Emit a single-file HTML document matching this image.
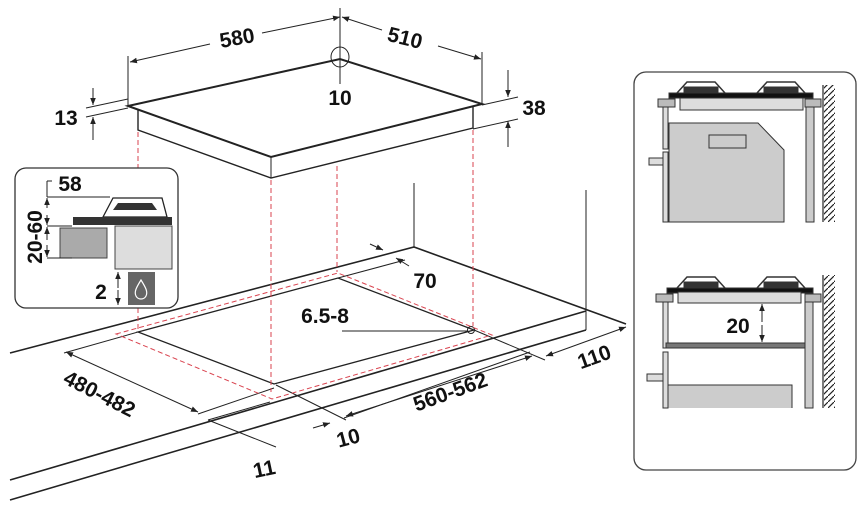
<!DOCTYPE html>
<html><head><meta charset="utf-8"><style>
html,body{margin:0;padding:0;background:#fff}
svg{display:block}
text{font-family:"Liberation Sans",sans-serif;font-weight:bold;fill:#111}
</style></head><body>
<svg width="866" height="513" viewBox="0 0 866 513" xmlns="http://www.w3.org/2000/svg">
<defs>
<marker id="a" viewBox="0 0 10 10" refX="10" refY="5" markerWidth="7" markerHeight="7" orient="auto-start-reverse"><path d="M0,1 L10,5 L0,9 z" fill="#222"/></marker>
<pattern id="h" width="6" height="6" patternUnits="userSpaceOnUse"><path d="M0,6 L6,0" stroke="#222" stroke-width="1.2"/></pattern>
</defs>
<g stroke="#222" fill="none" stroke-width="1">
<path d="M128,106 L340,59 L482,104 L271,157 Z" stroke-width="2" fill="#fff"/>
<path d="M138,109 L138,130 L271,178 L473,128 L473,107" stroke-width="1.4"/>
<path d="M271,157 L271,178"/>
<path d="M128,106 L128,56 M340,8 L340,84 M482,104 L482,52"/>
<path d="M262,33 L340,17" marker-end="url(#a)"/>
<path d="M130,62 L210,44" marker-start="url(#a)"/>
<path d="M342,17 L382,30" marker-start="url(#a)"/>
<path d="M438,46 L481,59" marker-end="url(#a)"/>
<ellipse cx="340" cy="57" rx="9" ry="10"/>
<path d="M93,88 L93,105" marker-end="url(#a)"/>
<path d="M93,140 L93,117" marker-end="url(#a)"/>
<path d="M86,108 L128,99 M86,117 L128,108"/>
<path d="M508,70 L508,97" marker-end="url(#a)"/>
<path d="M508,147 L508,121" marker-end="url(#a)"/>
<path d="M482,105 L518,97 M473,129 L518,119"/>
<path d="M414,183 L414,247 M586,190 L586,330"/>
<path d="M10,353 L414,247 L626,324 M10,480 L586,311 M10,500 L586,330" stroke-width="1.6"/>
<path d="M138,332 L338,278 L474,330 L274,384 Z" stroke-width="1.3"/>
<path d="M64,353 L138,332"/>
<path d="M66,352 L198,412" marker-start="url(#a)" marker-end="url(#a)"/>
<path d="M198,414 L274,388"/>
<path d="M208,420 L270,402 M208,420 L276,447"/>
<path d="M276,385 L346,420 M344,418 L530,352"/>
<path d="M346,416 L532,356" marker-start="url(#a)" marker-end="url(#a)"/>
<path d="M474,330 L545,360"/>
<path d="M546,356 L626,327" marker-start="url(#a)" marker-end="url(#a)"/>
<path d="M313,428 L330,423" marker-end="url(#a)"/>
<path d="M370,244 L383,250" marker-end="url(#a)"/>
<path d="M338,278 L405,260"/>
<path d="M396,258 L409,266" marker-start="url(#a)"/>
<path d="M342,331 L468,331"/>
<circle cx="471" cy="330" r="3.5"/>
</g>
<g stroke="#d9434f" stroke-width="1" stroke-dasharray="5,3" fill="none">
<path d="M138,132 L138,330 M271,180 L271,392 M337,166 L337,272 M473,130 L473,326"/>
<path d="M116,334 L338,273 L492,335 L272,399 Z"/>
</g>
<g font-size="21">
<text x="237" y="45" text-anchor="middle" transform="rotate(-10 237 38)">580</text>
<text x="405" y="45" text-anchor="middle" transform="rotate(14 405 38)">510</text>
<text x="340" y="105" text-anchor="middle">10</text>
<text x="66" y="125" text-anchor="middle">13</text>
<text x="534" y="115" text-anchor="middle">38</text>
<text x="425" y="288" text-anchor="middle">70</text>
<text x="325" y="323" text-anchor="middle">6.5-8</text>
<text x="100" y="401" text-anchor="middle" transform="rotate(27 100 393)">480-482</text>
<text x="450" y="399" text-anchor="middle" transform="rotate(-20 450 391)">560-562</text>
<text x="594" y="364" text-anchor="middle" transform="rotate(-20 594 356)">110</text>
<text x="348" y="445" text-anchor="middle" transform="rotate(-15 348 437)">10</text>
<text x="264" y="476" text-anchor="middle" transform="rotate(-12 264 468)">11</text>
</g>
<rect x="15" y="168" width="163" height="140" rx="11" fill="#fff" stroke="#333" stroke-width="1.3"/>
<path d="M103,217 L113,198 L162,198 L167,217 Z" fill="#fff" stroke="#222" stroke-width="1.3"/>
<path d="M113,210 L118,203 L152,203 L157,210 Z" fill="#333"/>
<rect x="73" y="217" width="99" height="8" fill="#333"/>
<rect x="60" y="228" width="47" height="30" fill="#aaa" stroke="#444"/>
<rect x="115" y="226" width="57" height="43" fill="#ddd" stroke="#444"/>
<rect x="128" y="272" width="27" height="33" fill="#666"/>
<path d="M141,280 C136,288 134,292 136,296 C138,300 144,300 146,296 C148,292 146,288 141,280 Z" fill="none" stroke="#fff" stroke-width="1.2"/>
<g stroke="#222" fill="none" stroke-width="1">
<path d="M47,181 L52,181 M47,181 L47,197 M47,197 L110,197 M47,226 L72,226 M47,258 L72,258"/>
<path d="M47,208 L47,198" marker-end="url(#a)"/><path d="M47,215 L47,225" marker-end="url(#a)"/>
<path d="M47,240 L47,227" marker-end="url(#a)"/><path d="M47,245 L47,257" marker-end="url(#a)"/>
<path d="M118,288 L118,272" marker-end="url(#a)"/><path d="M118,290 L118,305" marker-end="url(#a)"/>
</g>
<g font-size="21">
<text x="70" y="191" text-anchor="middle">58</text>
<text x="35" y="244" text-anchor="middle" transform="rotate(-90 35 237)">20-60</text>
<text x="101" y="299" text-anchor="middle">2</text>
</g>
<rect x="634" y="72" width="222" height="398" rx="12" fill="#fff" stroke="#444" stroke-width="1.3"/>
<g stroke="#333" stroke-width="1">
<path d="M677,93 L687,82 L715,82 L725,93 M757,93 L767,82 L795,82 L805,93" fill="none" stroke-width="1.5"/>
<rect x="684" y="87" width="34" height="6" fill="#333"/><rect x="764" y="87" width="34" height="6" fill="#333"/>
<rect x="669" y="93" width="144" height="5" fill="#111"/>
<rect x="658" y="99" width="17" height="8" fill="#bbb"/>
<rect x="680" y="98" width="123" height="12" fill="#ddd"/>
<rect x="805" y="99" width="16" height="8" fill="#bbb"/>
<rect x="663" y="107" width="5" height="42" fill="#ddd"/>
<rect x="663" y="152" width="5" height="70" fill="#ddd"/>
<rect x="649" y="158" width="14" height="7" fill="#ddd"/>
<path d="M669,222 L669,123 L758,123 L784,150 L784,222 Z" fill="#ccc"/>
<rect x="709" y="135" width="37" height="13" fill="#ccc"/>
<rect x="806" y="107" width="8" height="115" fill="#ccc"/>
<path d="M677,288 L687,277 L715,277 L725,288 M757,288 L767,277 L795,277 L805,288" fill="none" stroke-width="1.5"/>
<rect x="684" y="282" width="34" height="6" fill="#333"/><rect x="764" y="282" width="34" height="6" fill="#333"/>
<rect x="667" y="288" width="146" height="5" fill="#111"/>
<rect x="656" y="294" width="17" height="8" fill="#bbb"/>
<rect x="678" y="292" width="123" height="11" fill="#ddd"/>
<rect x="805" y="294" width="16" height="8" fill="#bbb"/>
<rect x="663" y="302" width="5" height="46" fill="#ddd"/>
<rect x="666" y="343" width="140" height="5" fill="#777"/>
<rect x="663" y="352" width="5" height="56" fill="#ddd"/>
<rect x="647" y="374" width="16" height="7" fill="#ddd"/>
<rect x="668" y="385" width="124" height="23" fill="#ccc" stroke="none"/>
<path d="M668,408 L668,385 L792,385 L792,408" fill="none"/>
<rect x="805" y="302" width="8" height="106" fill="#ccc"/>
</g>
<g stroke="#222" stroke-width="1.2">
<line x1="823" y1="85" x2="823" y2="222"/>
<line x1="823" y1="275" x2="823" y2="408"/>
</g>
<rect x="824" y="85" width="11" height="137" fill="url(#h)"/>
<rect x="824" y="275" width="11" height="133" fill="url(#h)"/>
<g stroke="#222" fill="none">
<path d="M762,322 L762,304" marker-end="url(#a)"/><path d="M762,325 L762,342" marker-end="url(#a)"/>
</g>
<text x="738" y="333" font-size="21" text-anchor="middle">20</text>
</svg>
</body></html>
